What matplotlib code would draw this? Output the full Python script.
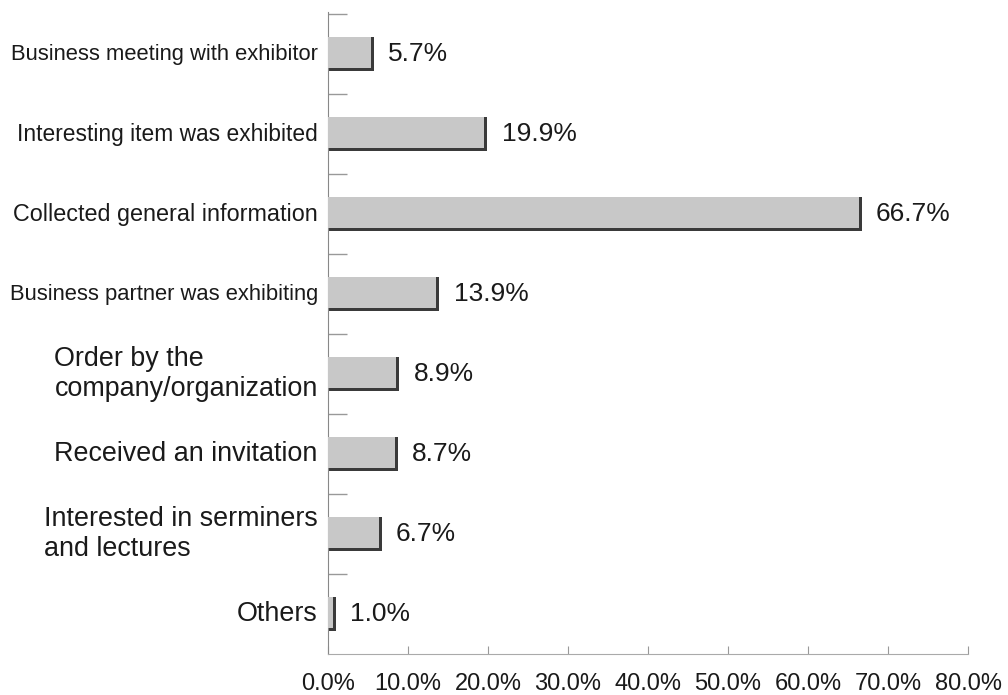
import matplotlib.pyplot as plt
import numpy as np

categories = ["Business meeting with exhibitor",
              "Interesting item was exhibited",
              "Collected general information",
              "Business partner was exhibiting",
              "Order by the\ncompany/organization",
              "Received an invitation",
              "Interested in serminers\nand lectures",
              "Others"]
values = [5.7, 19.9, 66.7, 13.9, 8.9, 8.7, 6.7, 1.0]
label_sizes = [15.8, 16.4, 16.8, 15.8, 19.4, 19.4, 19.4, 19.4]
xticks = [0, 10, 20, 30, 40, 50, 60, 70, 80]

plt.rcParams['font.family'] = ['Liberation Sans', 'DejaVu Sans']

fig = plt.figure(figsize=(10.08, 6.95), dpi=100)
ax = fig.add_axes([0.3254, 0.059, 0.635, 0.9237])

y = np.arange(len(categories))
h = 0.42
# dark shadow bar behind, lighter bar on top
ax.barh(y, values, height=h, color="#3a3a3a", zorder=2)
ax.barh(y - 0.02, np.array(values) - 0.35, height=h - 0.03, color="#c8c8c8", zorder=3)

for yi, v in zip(y, values):
    ax.text(v + 1.8, yi, f"{v:.1f}%", va="center", ha="left", fontsize=19, color="#1a1a1a")

ax.set_xlim(0, 80)
ax.set_ylim(7.5, -0.525)
ax.set_xticks(xticks)
ax.set_xticklabels([f"{t:.1f}%" for t in xticks], fontsize=17, color="#1a1a1a")
ax.set_yticks(y)
ax.set_yticklabels([])
for yi, lab, fs in zip(y, categories, label_sizes):
    ax.text(-0.016, yi, lab, transform=ax.get_yaxis_transform(), ha="right", va="center",
            multialignment="left", fontsize=fs, color="#1a1a1a")
ax.set_yticks(np.arange(-0.5, 7.5, 1), minor=True)
ax.tick_params(axis="y", which="major", length=0)
ax.tick_params(axis="y", which="minor", direction="in", length=14, color="#999999", width=1)
ax.tick_params(axis="x", direction="in", length=6, color="#999999", pad=14)

for s in ["top", "right"]:
    ax.spines[s].set_visible(False)
ax.spines["left"].set_color("#888888")
ax.spines["bottom"].set_color("#aaaaaa")

fig.savefig("out.png", dpi=100)
